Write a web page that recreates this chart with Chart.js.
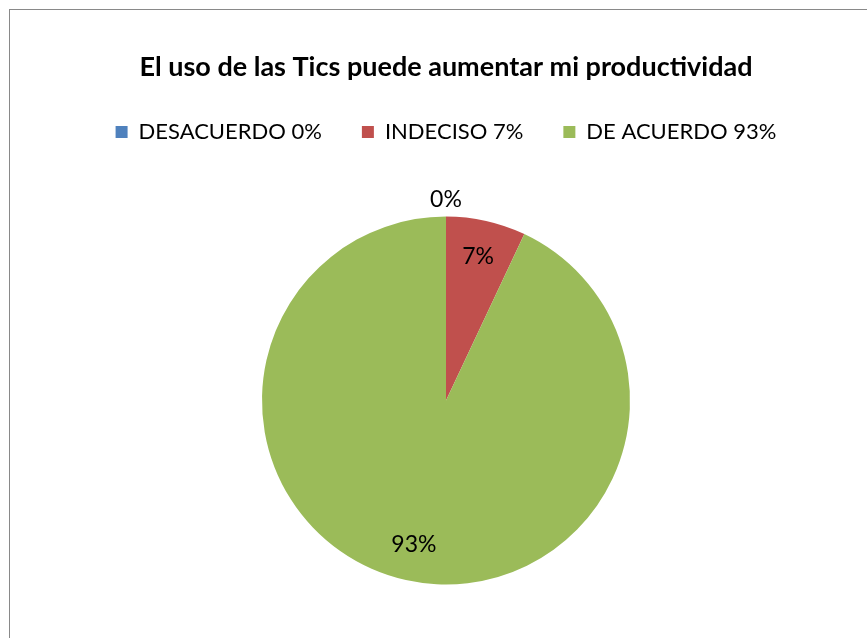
<!DOCTYPE html>
<html>
<head>
<meta charset="utf-8">
<script src="https://cdn.jsdelivr.net/npm/chart.js@4/dist/chart.umd.min.js"></script>
<style>
    html, body {
        margin: 0;
        padding: 0;
        width: 867px;
        height: 638px;
        overflow: hidden;
        background: white;
    }
    #frame {
        position: absolute;
        left: 9px;
        top: 9px;
        width: 880px;
        height: 660px;
        border: 1px solid #898989;
        background: white;
    }
    #frame canvas {
        display: block;
    }
</style>
</head>
<body>
<div id="frame">
    <canvas id="pieChart" width="880" height="638"></canvas>
</div>
<script>
const chartTitle = 'El uso de las Tics puede aumentar mi productividad';
const categories = ['DESACUERDO', 'INDECISO', 'DE ACUERDO'];
const percentages = [0, 7, 93];
const sliceColors = ['#4F81BD', '#C0504D', '#9BBB59'];

const fontName = 'Lato, "Open Sans", sans-serif';

// etiquetas de porcentaje sobre cada sector
const sliceLabels = {
    id: 'sliceLabels',
    afterDatasetsDraw(chart) {
        const ctx = chart.ctx;
        const arcs = chart.getDatasetMeta(0).data;
        ctx.save();
        ctx.font = '23px ' + fontName;
        ctx.fillStyle = '#000';
        ctx.textAlign = 'center';
        ctx.textBaseline = 'middle';
        arcs.forEach((arc, i) => {
            const mid = (arc.startAngle + arc.endAngle) / 2;
            const r = percentages[i] === 0 ? arc.outerRadius + 17 : arc.outerRadius * 0.8;
            const x = arc.x + Math.cos(mid) * r;
            const y = arc.y + Math.sin(mid) * r;
            ctx.fillText(percentages[i] + '%', x, y);
        });
        ctx.restore();
    }
};

new Chart(document.getElementById('pieChart'), {
    type: 'pie',
    data: {
        labels: categories.map((c, i) => `${c} ${percentages[i]}%`),
        datasets: [{
            data: percentages,
            backgroundColor: sliceColors,
            borderWidth: 0,
            radius: 184
        }]
    },
    options: {
        responsive: false,
        animation: false,
        layout: { padding: { right: 8 } },
        plugins: {
            title: {
                display: true,
                text: chartTitle,
                color: '#000',
                font: { family: fontName, size: 27, weight: 'bold', lineHeight: 1 },
                padding: { top: 44, bottom: 0 }
            },
            legend: {
                position: 'top',
                labels: {
                    color: '#000',
                    font: { family: fontName, size: 22 },
                    boxWidth: 12,
                    boxHeight: 12,
                    padding: 40
                }
            },
            tooltip: { enabled: false }
        }
    },
    plugins: [sliceLabels]
});
</script>
</body>
</html>
